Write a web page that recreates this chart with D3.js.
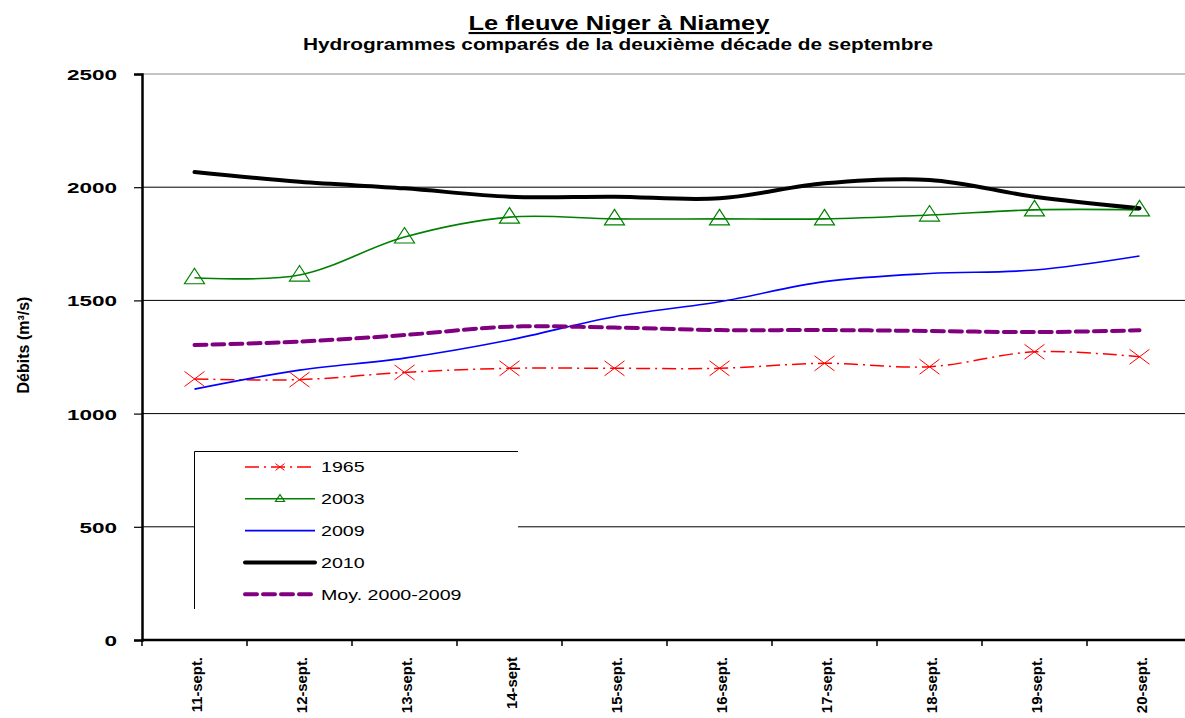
<!DOCTYPE html>
<html>
<head>
<meta charset="utf-8">
<script src="https://cdn.jsdelivr.net/npm/d3@7"></script>
<style>
  body { margin: 0; background: #fff; }
  svg { display: block; font-family: "Liberation Sans", Arial, sans-serif; }
</style>
</head>
<body>
<div id="chart"></div>
<script>
//categories and series
const dates = ["11-sept.", "12-sept.", "13-sept.", "14-sept", "15-sept.", "16-sept.", "17-sept.", "18-sept.", "19-sept.", "20-sept."];
const yTicks = [0, 500, 1000, 1500, 2000, 2500];

const v1965 = [1153, 1150, 1182, 1200, 1200, 1200, 1222, 1207, 1273, 1251];
const v2003 = [1600, 1612, 1780, 1868, 1860, 1860, 1860, 1877, 1900, 1900];
const v2009 = [1108, 1192, 1245, 1325, 1428, 1494, 1583, 1619, 1634, 1696];
const v2010 = [2067, 2024, 1995, 1958, 1958, 1951, 2017, 2032, 1958, 1907];
const vMoy = [1303, 1318, 1347, 1384, 1380, 1369, 1369, 1365, 1360, 1368];

const series = [
    { name: "1965", values: v1965, color: "#ff0000", width: 1.5, dash: "14,5,2,5", marker: "x" },
    { name: "2003", values: v2003, color: "#008000", width: 1.6, dash: null, marker: "tri" },
    { name: "2009", values: v2009, color: "#0000ff", width: 1.6, dash: null, marker: null },
    { name: "2010", values: v2010, color: "#000000", width: 4, dash: null, marker: null },
    { name: "Moy. 2000-2009", values: vMoy, color: "#800080", width: 4, dash: "12,6", marker: null }
];

const width = 1185, height = 718;
const marginLeft = 142, plotRight = 1192, plotTop = 74, plotBottom = 640;

const svg = d3.select("#chart").append("svg")
    .attr("width", width)
    .attr("height", height);

const x = d3.scaleBand(dates, [marginLeft, plotRight]);
const y = d3.scaleLinear([0, 2500], [plotBottom, plotTop]);
const cx = d => x(d) + x.bandwidth() / 2;

//the original text is drawn with horizontally stretched glyphs
function stretch(sel, k) {
    sel.each(function () {
        const w = this.getComputedTextLength();
        d3.select(this)
            .attr("textLength", w * k)
            .attr("lengthAdjust", "spacingAndGlyphs");
    });
}

//titles
svg.append("text")
    .attr("x", 619).attr("y", 30)
    .attr("text-anchor", "middle")
    .attr("font-size", 21).attr("font-weight", "bold")
    .attr("text-decoration", "underline")
    .text("Le fleuve Niger à Niamey")
    .call(stretch, 1.21);
svg.append("text")
    .attr("x", 618).attr("y", 50)
    .attr("text-anchor", "middle")
    .attr("font-size", 16).attr("font-weight", "bold")
    .text("Hydrogrammes comparés de la deuxième décade de septembre")
    .call(stretch, 1.3);

//gridlines
svg.append("g")
    .selectAll("line")
    .data(yTicks.filter(d => d > 0))
    .join("line")
    .attr("x1", marginLeft).attr("x2", width)
    .attr("y1", d => y(d)).attr("y2", d => y(d))
    .attr("stroke", d => d === 2500 ? "#888" : "#000")
    .attr("stroke-width", 1);

//y axis
const yAxis = svg.append("g")
    .attr("transform", `translate(${marginLeft},0)`)
    .call(d3.axisLeft(y).tickValues(yTicks).tickFormat(d3.format("d")).tickSize(8).tickPadding(17));
yAxis.select(".domain").attr("stroke-width", 2.5);
yAxis.selectAll(".tick line").attr("stroke-width", 1.2);
yAxis.selectAll(".tick text")
    .attr("font-size", 15).attr("font-weight", "bold")
    .attr("font-family", "Liberation Sans, Arial, sans-serif")
    .attr("dy", "0.36em")
    .call(stretch, 1.5);

svg.append("text")
    .attr("transform", "translate(29,345) rotate(-90)")
    .attr("text-anchor", "middle")
    .attr("font-size", 16).attr("font-weight", "bold")
    .text("Débits (m³/s)");

//x axis
const xg = svg.append("g");
xg.append("line")
    .attr("x1", marginLeft).attr("x2", width)
    .attr("y1", plotBottom).attr("y2", plotBottom)
    .attr("stroke", "#000").attr("stroke-width", 2.5);
xg.selectAll(".tk")
    .data(dates)
    .join("line")
    .attr("class", "tk")
    .attr("x1", d => x(d)).attr("x2", d => x(d))
    .attr("y1", plotBottom).attr("y2", plotBottom + 6)
    .attr("stroke", "#000").attr("stroke-width", 1.5);
xg.selectAll("text")
    .data(dates)
    .join("text")
    .attr("transform", d => `translate(${cx(d) + 7},657) rotate(-90)`)
    .attr("text-anchor", "end")
    .attr("font-size", 15).attr("font-weight", "bold")
    .text(d => d)
    .call(stretch, 0.99);

//lines
const line = d3.line()
    .x((d, i) => cx(dates[i]))
    .y(d => y(d))
    .curve(d3.curveCatmullRom.alpha(0.5));

const plot = svg.append("g");
series.forEach(s => {
    plot.append("path")
        .attr("d", line(s.values))
        .attr("fill", "none")
        .attr("stroke", s.color)
        .attr("stroke-width", s.width)
        .attr("stroke-dasharray", s.dash)
        .attr("stroke-linecap", s.width > 3 ? "round" : "butt");
});

function drawMarker(g, type, px, py, color, size) {
    if (type === "x") {
        const r = size / 2;
        g.append("path")
            .attr("d", `M${px - r},${py - r * 0.75}L${px + r},${py + r * 0.75}M${px - r},${py + r * 0.75}L${px + r},${py - r * 0.75}`)
            .attr("stroke", color).attr("stroke-width", 1)
            .attr("fill", "none");
    } else if (type === "tri") {
        const r = size / 2;
        g.append("path")
            .attr("d", `M${px},${py - r * 0.95}L${px + r},${py + r * 0.6}L${px - r},${py + r * 0.6}Z`)
            .attr("stroke", color).attr("stroke-width", 1.2)
            .attr("fill", "none");
    }
}

series.filter(s => s.marker).forEach(s => {
    s.values.forEach((v, i) => drawMarker(plot, s.marker, cx(dates[i]), y(v), s.color, 20));
});

//legend
const lg = svg.append("g");
lg.append("rect")
    .attr("x", 194).attr("y", 451)
    .attr("width", 324).attr("height", 160)
    .attr("fill", "#fff");
lg.append("path")
    .attr("d", "M194.5,609V451.5H518")
    .attr("fill", "none")
    .attr("stroke", "#000").attr("stroke-width", 1);

series.forEach((s, i) => {
    const ly = 467 + i * 31.8;
    lg.append("line")
        .attr("x1", 245).attr("x2", 315)
        .attr("y1", ly).attr("y2", ly)
        .attr("stroke", s.color)
        .attr("stroke-width", s.width)
        .attr("stroke-dasharray", s.dash)
        .attr("stroke-linecap", s.width > 3 ? "round" : "butt");
    if (s.marker) drawMarker(lg, s.marker, 280, ly, s.color, 9);
    lg.append("text")
        .attr("x", 321).attr("y", ly)
        .attr("dy", "0.36em")
        .attr("font-size", 15)
        .text(s.name)
        .call(stretch, 1.31);
});
</script>
</body>
</html>
